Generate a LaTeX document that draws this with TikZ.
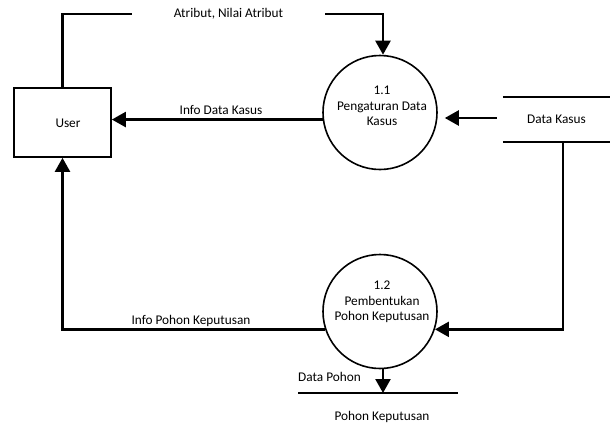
\documentclass[tikz,border=0pt]{standalone}
\usepackage{fontspec}
\setmainfont{Carlito}
\usetikzlibrary{arrows.meta,calc}
\tikzset{
  base/.style={font=\fontsize{13.3}{16}\selectfont, inner sep=0pt},
  entity/.style={draw, line width=1.7pt, minimum width=97pt, minimum height=69pt},
  process/.style={draw, circle, line width=1.6pt, minimum size=114pt},
  flow/.style={line width=2.4pt},
  flowto/.style={flow, -{Triangle[length=14pt,width=15pt]}},
  storeline/.style={line width=1.5pt},
  lbl/.style={base, align=center}
}
\begin{document}
\begin{tikzpicture}[x=1pt, y=-1pt, base]
  \useasboundingbox (0,0) rectangle (610,437);

  % external entity
  \node[entity] (user) at (62.5,122.5) {};
  \node[lbl] (usertxt) at (68,123) {User};

  % processes
  \node[process] (p11) at (380,112.5) {};
  \node[lbl] (p11txt) at (382,106) {1.1\\[-0.5pt]Pengaturan Data\\[-0.5pt]Kasus};
  \node[process] (p12) at (380,311.5) {};
  \node[lbl] (p12txt) at (382,302) {1.2\\[-0.5pt]Pembentukan\\[-0.5pt]Pohon Keputusan};

  % data store: Data Kasus
  \node[lbl, minimum width=107pt, minimum height=45pt] (dk) at (556.5,119.5) {Data Kasus};
  \draw[storeline] (dk.north west) -- (dk.north east);
  \draw[storeline] (dk.south west) -- (dk.south east);

  % data store: Pohon Keputusan
  \node[lbl] (pk) at (382,417) {Pohon Keputusan};
  \coordinate (pkl) at (298,393);
  \coordinate (pkr) at (458,393);
  \draw[storeline] (pkl) -- (pkr);

  % User -> 1.1 : Atribut, Nilai Atribut
  \node[lbl, minimum width=193pt] (attr) at (228.5,14) {Atribut, Nilai Atribut};
  \draw[flow] (user.north) |- (attr.west);
  \draw[flowto] (attr.east) -| ([xshift=3pt]p11.north);

  % 1.1 -> User : Info Data Kasus
  \draw[flowto] (p11.187) -- (p11.187 -| user.east);
  \node[lbl] (idk) at (221,110) {Info Data Kasus};

  % Data Kasus -> 1.1
  \draw[flowto, shorten <=6pt, shorten >=7pt] ([yshift=1.5pt]dk.west) -- ([yshift=1.5pt]dk.west -| p11.east);

  % Data Kasus -> 1.2
  \draw[flowto] ([xshift=6.5pt]dk.south) |- (p12.342);

  % 1.2 -> User : Info Pohon Keputusan
  \draw[flowto] (p12.198) -| (user.south);
  \node[lbl] (ipk) at (191,321) {Info Pohon Keputusan};

  % 1.2 -> Pohon Keputusan : Data Pohon
  \draw[flowto] ([xshift=3pt]p12.south) -- ([xshift=3pt]p12.south |- pkl);
  \node[lbl, anchor=west] (dp) at (298,377) {Data Pohon};
\end{tikzpicture}
\end{document}
